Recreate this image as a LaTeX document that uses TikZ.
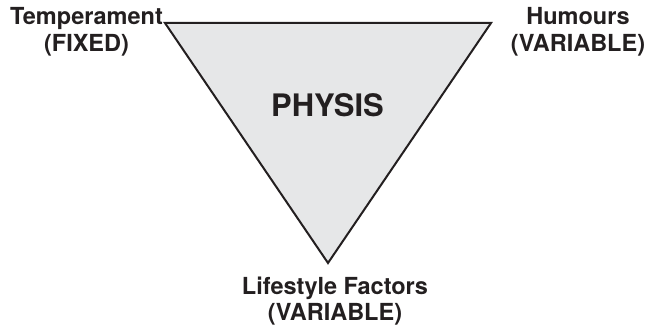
\documentclass[tikz,border=0pt]{standalone}
\usepackage{fontspec}
\setmainfont{TeX Gyre Heros}
\definecolor{ink}{RGB}{35,31,32}
\definecolor{trifill}{RGB}{230,231,232}
\begin{document}
\begin{tikzpicture}[x=1pt,y=-1pt,
  lbl/.style={anchor=north,inner sep=0pt,align=center,text=ink,
    font=\fontsize{23.5}{26.5}\selectfont\bfseries},
  title/.style={anchor=north,inner sep=0pt,text=ink,
    font=\fontsize{31}{36}\selectfont\bfseries},
  tri/.style={draw=ink,fill=trifill,line width=2pt,line join=miter}]
\useasboundingbox (0,0) rectangle (649,326);
\coordinate (tl) at (165,23);
\coordinate (tr) at (491,23);
\coordinate (bt) at (328,263);
\draw[tri] (tl) -- (tr) -- (bt) -- cycle;
\node[title] (physis) at (327.5,93) {PHYSIS};
\node[lbl] (temp) at (86.5,7.5) {Temperament\\(FIXED)};
\node[lbl] (hum) at (578,7.5) {Humours\\(VARIABLE)};
\node[lbl] (life) at (335,276.5) {Lifestyle Factors\\(VARIABLE)};
\end{tikzpicture}
\end{document}
